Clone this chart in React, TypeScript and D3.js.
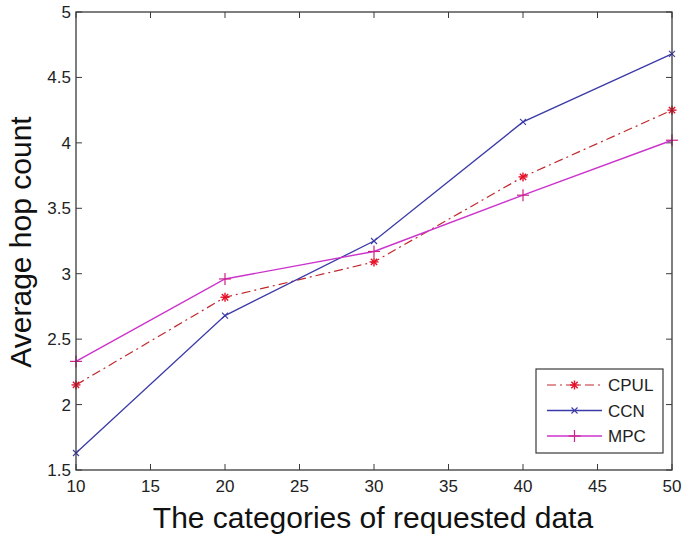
import React from "react";
import * as d3 from "d3";

const categories = [10, 20, 30, 40, 50];
const cpul = [2.15, 2.82, 3.09, 3.74, 4.25];
const ccn = [1.63, 2.68, 3.25, 4.16, 4.68];
const mpc = [2.33, 2.96, 3.17, 3.6, 4.02];
const xTicks = [10, 15, 20, 25, 30, 35, 40, 45, 50];
const yTicks = [1.5, 2, 2.5, 3, 3.5, 4, 4.5, 5];
const seriesNames = ["CPUL", "CCN", "MPC"];

const W = 685, H = 538;
const L = 76, R = 672, T = 12, B = 470;

type Marker = "star" | "x" | "plus";

function MarkerShape({ type, x, y, color }: { type: Marker; x: number; y: number; color: string }) {
  if (type === "star") {
    const s = 4.5;
    return (
      <g stroke={color} strokeWidth={1.4}>
        <line x1={x - s} y1={y} x2={x + s} y2={y} />
        <line x1={x} y1={y - s} x2={x} y2={y + s} />
        <line x1={x - s * 0.7} y1={y - s * 0.7} x2={x + s * 0.7} y2={y + s * 0.7} />
        <line x1={x - s * 0.7} y1={y + s * 0.7} x2={x + s * 0.7} y2={y - s * 0.7} />
      </g>
    );
  }
  if (type === "x") {
    const s = 3;
    return (
      <g stroke={color} strokeWidth={1.1}>
        <line x1={x - s} y1={y - s} x2={x + s} y2={y + s} />
        <line x1={x - s} y1={y + s} x2={x + s} y2={y - s} />
      </g>
    );
  }
  const s = 6;
  return (
    <g stroke={color} strokeWidth={1.2}>
      <line x1={x - s} y1={y} x2={x + s} y2={y} />
      <line x1={x} y1={y - s} x2={x} y2={y + s} />
    </g>
  );
}

export default function App() {
  const x = d3.scaleLinear().domain([10, 50]).range([L, R]);
  const y = d3.scaleLinear().domain([1.5, 5]).range([B, T]);
  const line = d3
    .line<number>()
    .x((_, i) => x(categories[i]))
    .y((d) => y(d));

  const series = [
    { name: seriesNames[0], data: cpul, color: "#c0282c", mcolor: "#e8102a", dash: "9,4,2,4", marker: "star" as Marker, sw: 1.2 },
    { name: seriesNames[1], data: ccn, color: "#3a3aa8", mcolor: "#3a3aa8", dash: undefined, marker: "x" as Marker, sw: 1.3 },
    { name: seriesNames[2], data: mpc, color: "#cc33cc", mcolor: "#cc2288", dash: undefined, marker: "plus" as Marker, sw: 1.4 },
  ];

  const axisColor = "#3a3a3a";
  const font = "Arial, 'Liberation Sans', sans-serif";

  return (
    <svg width={W} height={H} style={{ position: "absolute", left: 0, top: 0, background: "#fff" }}>
      <rect x={0} y={0} width={W} height={H} fill="#fff" />
      {xTicks.map((t) => (
        <g key={"xt" + t}>
          <line x1={x(t)} x2={x(t)} y1={B} y2={B - 6} stroke={axisColor} />
          <line x1={x(t)} x2={x(t)} y1={T} y2={T + 6} stroke={axisColor} />
          <text x={x(t)} y={492} textAnchor="middle" fontSize={17} fontFamily={font} fill="#222">
            {t}
          </text>
        </g>
      ))}
      {yTicks.map((t) => (
        <g key={"yt" + t}>
          <line x1={L} x2={L + 6} y1={y(t)} y2={y(t)} stroke={axisColor} />
          <line x1={R} x2={R - 6} y1={y(t)} y2={y(t)} stroke={axisColor} />
          <text x={71} y={y(t) + 6} textAnchor="end" fontSize={17} fontFamily={font} fill="#222">
            {t}
          </text>
        </g>
      ))}
      {series.map((s) => (
        <path key={s.name} d={line(s.data) || ""} fill="none" stroke={s.color} strokeWidth={s.sw} strokeDasharray={s.dash} />
      ))}
      {series.map((s) =>
        s.data.map((v, i) => (
          <MarkerShape key={s.name + i} type={s.marker} x={x(categories[i])} y={y(v)} color={s.mcolor} />
        ))
      )}
      <rect x={L} y={T} width={R - L} height={B - T} fill="none" stroke={axisColor} strokeWidth={1.3} />
      <rect x={536} y={369} width={127} height={84} fill="#fff" stroke={axisColor} strokeWidth={1.2} />
      {series.map((s, i) => {
        const ly = 385 + i * 25.5;
        return (
          <g key={"lg" + s.name}>
            <line x1={547} x2={602} y1={ly} y2={ly} stroke={s.color} strokeWidth={s.sw} strokeDasharray={s.dash} />
            <MarkerShape type={s.marker} x={574.5} y={ly} color={s.mcolor} />
            <text x={608} y={ly + 6} fontSize={17} fontFamily={font} fill="#222">
              {s.name}
            </text>
          </g>
        );
      })}
      <text x={373} y={528} textAnchor="middle" fontSize={30} fontFamily={font} fill="#111">
        The categories of requested data
      </text>
      <text
        transform={`translate(31, 242) rotate(-90)`}
        textAnchor="middle"
        fontSize={30}
        fontFamily={font}
        fill="#111"
      >
        Average hop count
      </text>
    </svg>
  );
}
